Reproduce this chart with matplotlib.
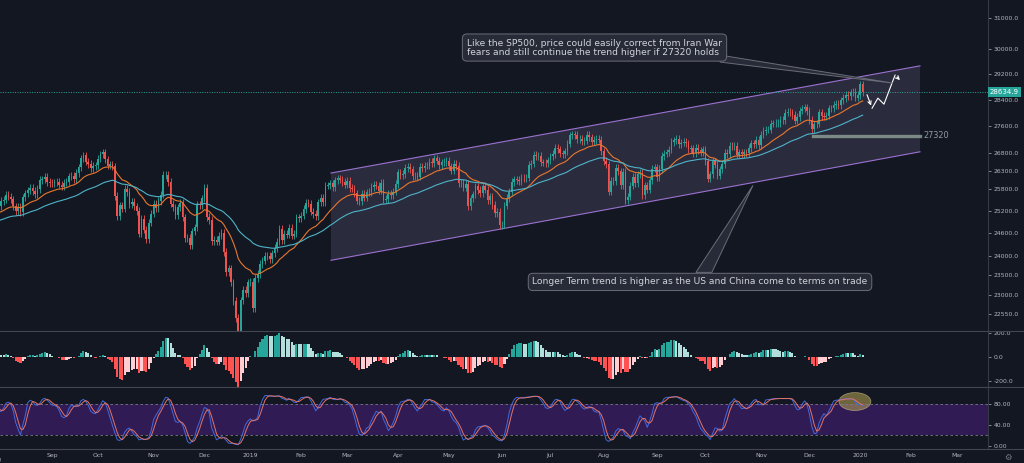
import numpy as np
import pandas as pd
import matplotlib
matplotlib.use('Agg')
import matplotlib.pyplot as plt
import matplotlib.transforms as mtransforms
from matplotlib.patches import Polygon, Ellipse
from matplotlib.lines import Line2D
from matplotlib.ticker import FixedLocator, NullLocator, FormatStrFormatter

# Dow Jones daily closes, Jun 2018 .. Jan 3 2020 (Jun/Jul 2018 only feed the indicators)
close_jun18 = [24635, 24814, 24799, 25146, 25242, 25317, 25323, 25320, 25201, 25175, 25090,
               24988, 24700, 24658, 24462, 24581, 24253, 24284, 24117, 24216, 24271]
close_jul18 = [24307, 24174, 24357, 24456, 24776, 24920, 24700, 24925, 25019, 25064, 25120,
               25199, 25065, 25058, 25044, 25242, 25415, 25527, 25451, 25307, 25415]
close_aug18 = [25333, 25327, 25463, 25502, 25629, 25583, 25509, 25313, 25187, 25300, 25162,
               25559, 25669, 25758, 25822, 25733, 25656, 25790, 26050, 26065, 26125, 25987, 25965]
close_sep18 = [25952, 25975, 25996, 25917, 25857, 25972, 25999, 26145, 26155, 26062, 26247,
               26406, 26657, 26744, 26562, 26492, 26385, 26440, 26458]
close_oct18 = [26651, 26774, 26828, 26627, 26447, 26487, 26431, 25599, 25053, 25340, 25250,
               25798, 25706, 25380, 25444, 25317, 25191, 24583, 24985, 24689, 24443, 24875, 25116]
close_nov18 = [25380, 25271, 25462, 25636, 26181, 26191, 25989, 25387, 25286, 25080, 25290,
               25413, 25018, 24466, 24465, 24286, 24640, 24749, 25366, 25339, 25538]
close_dec18 = [25826, 25027, 24947, 24389, 24423, 24370, 24527, 24597, 24101, 23592, 23676,
               23324, 22860, 22446, 21792, 22878, 23139, 23063, 23327]
close_jan19 = [23346, 22686, 23433, 23531, 23787, 23879, 24001, 23996, 23910, 24066, 24207,
               24370, 24706, 24405, 24575, 24554, 24737, 24529, 24580, 25015, 24999]
close_feb19 = [25064, 25239, 25411, 25391, 25169, 25106, 25053, 25425, 25543, 25439, 25883,
               25891, 25954, 25850, 26031, 26092, 26057, 25986, 25916]
close_mar19 = [26026, 25820, 25807, 25673, 25473, 25450, 25651, 25555, 25703, 25710, 25849,
               25914, 25887, 25746, 25963, 25502, 25517, 25658, 25626, 25718, 25929]
close_apr19 = [26258, 26180, 26218, 26385, 26425, 26341, 26151, 26157, 26143, 26412, 26385,
               26453, 26450, 26559, 26512, 26656, 26597, 26462, 26543, 26554, 26593]
close_may19 = [26430, 26308, 26505, 26439, 25965, 25968, 25828, 25942, 25325, 25532, 25648,
               25863, 25764, 25680, 25877, 25777, 25490, 25586, 25348, 25127, 25170, 24815]
close_jun19 = [24820, 25332, 25540, 25720, 25984, 26062, 26049, 26005, 26107, 26090, 26112,
               26466, 26504, 26753, 26720, 26727, 26548, 26537, 26526, 26600]
close_jul19 = [26718, 26787, 26966, 26922, 26806, 26784, 26860, 27088, 27332, 27359, 27336,
               27220, 27223, 27154, 27172, 27349, 27270, 27141, 27192, 27222, 27199, 26864]
close_aug19 = [26583, 26485, 25718, 26030, 26008, 26379, 26287, 25897, 26280, 25479, 25579,
               25886, 26136, 25962, 26202, 26253, 25629, 25899, 25778, 26037, 26363, 26403]
close_sep19 = [26118, 26356, 26728, 26797, 26836, 26910, 27137, 27182, 27220, 27076, 27111,
               27147, 27095, 26935, 26949, 26808, 26971, 26891, 26820, 26917]
close_oct19 = [26573, 26079, 26202, 26573, 26478, 26164, 26347, 26497, 26817, 26787, 27025,
               27002, 27026, 26770, 26828, 26788, 26834, 26806, 26958, 27091, 27071, 27186, 27046]
close_nov19 = [27347, 27462, 27493, 27493, 27675, 27681, 27691, 27691, 27784, 27782, 28005,
               28036, 28012, 27934, 27767, 27876, 28067, 28122, 28164, 28051]
close_dec19 = [27783, 27503, 27650, 27678, 28015, 27910, 27881, 27911, 28132, 28135, 28235,
               28268, 28240, 28377, 28455, 28551, 28516, 28621, 28645, 28462, 28538]
close_jan20 = [28868, 28634.9]

closes = (close_jun18 + close_jul18 + close_aug18 + close_sep18 + close_oct18 + close_nov18 +
          close_dec18 + close_jan19 + close_feb19 + close_mar19 + close_apr19 + close_may19 +
          close_jun19 + close_jul19 + close_aug19 + close_sep19 + close_oct19 + close_nov19 +
          close_dec19 + close_jan20)

holidays = ['2018-07-04', '2018-09-03', '2018-11-22', '2018-12-05', '2018-12-25',
            '2019-01-01', '2019-01-21', '2019-02-18', '2019-04-19', '2019-05-27',
            '2019-07-04', '2019-09-02', '2019-11-28', '2019-12-25',
            '2020-01-01', '2020-01-20', '2020-02-17']

last_price = 28634.9
support_level = 27320

# drawings on the chart (bar index from 1 Aug 2018, price)
channel_x = [138.3, 381.7]
channel_upper = [26241, 29453]
channel_lower = [23886, 26848]
support_x = [337.5, 381.7]
path_x = [359.4, 361.9, 364.3, 366.8, 371.4, 374.2]
path_y = [28632, 28140, 28446, 28262, 29161, 28942]

note_top = "Like the SP500, price could easily correct from Iran War\nfears and still continue the trend higher if 27320 holds"
note_bottom = "Longer Term trend is higher as the US and China come to terms on trade"

price_ticks = [31000, 30000, 29200, 28400, 27600, 26800, 26300, 25800, 25200, 24600,
               24000, 23500, 23000, 22550, 22125]
macd_ticks = [200, 0, -200]
stoch_ticks = [80, 40, 0]

BG = '#131722'
UP = '#26a69a'
DOWN = '#ef5350'
TXT = '#b2b5be'
LINE = '#363a45'
WICK = 0.004

# trading calendar
days = pd.bdate_range('2018-06-01', '2020-03-31')
days = days[~days.isin(pd.to_datetime(holidays))]
pos_all = np.arange(len(days)) - 42
n = len(closes)
pos = pos_all[:n]

c = pd.Series(closes, dtype=float)
o = c.shift(1).fillna(c.iloc[0])
hi = np.maximum(o, c) * (1 + WICK)
lo = np.minimum(o, c) * (1 - WICK)
up = (c >= o).values
col = np.where(up, UP, DOWN)

ma_fast = c.ewm(span=20, adjust=False).mean()
ma_slow = c.ewm(span=50, adjust=False).mean()

macd = c.ewm(span=12, adjust=False).mean() - c.ewm(span=26, adjust=False).mean()
hist = macd - macd.ewm(span=9, adjust=False).mean()
rising = hist.diff().fillna(0).values > 0
hv = hist.values
hcol = np.where(hv >= 0, np.where(rising, '#26a69a', '#b2dfdb'),
                np.where(rising, '#ffcdd2', '#ff5252'))

k_raw = 100 * (c - lo.rolling(14).min()) / (hi.rolling(14).max() - lo.rolling(14).min())
k = k_raw.rolling(3).mean()
d = k.rolling(3).mean()

plt.rcParams['font.family'] = ['DejaVu Sans']
fig = plt.figure(figsize=(10.24, 4.63), dpi=100, facecolor=BG)
H = 463.0
W = 1024.0
right = 988 / W
ax1 = fig.add_axes([0, 1 - 331 / H, right, 331 / H], facecolor=BG)
ax2 = fig.add_axes([0, 1 - 387 / H, right, 56 / H], facecolor=BG, sharex=ax1)
ax3 = fig.add_axes([0, 1 - 449 / H, right, 62 / H], facecolor=BG, sharex=ax1)

x0, x1 = 1.53, 409.8

# ---- price panel
ax1.set_yscale('log')
ax1.set_ylim(22134, 31619)
ax1.set_xlim(x0, x1)

ax1.fill([channel_x[0], channel_x[1], channel_x[1], channel_x[0]],
         [channel_upper[0], channel_upper[1], channel_lower[1], channel_lower[0]],
         color='#8c80b0', alpha=0.2, lw=0, zorder=1)
ax1.plot(channel_x, channel_upper, color='#9b72d0', lw=0.8, zorder=2)
ax1.plot(channel_x, channel_lower, color='#9b72d0', lw=0.8, zorder=2)

ax1.plot(support_x, [support_level, support_level], color='#9fb3a6', lw=2.4, alpha=0.7, zorder=2)
ax1.text(support_x[1] + 1.5, support_level, str(support_level), color='#9598a1',
         fontsize=5.9, va='center', ha='left')

ax1.axhline(last_price, color=UP, ls=(0, (1, 1.5)), lw=0.7, zorder=2)

ax1.vlines(pos, lo, hi, colors=col, lw=0.6, zorder=3)
ax1.bar(pos, np.abs(c - o), bottom=np.minimum(o, c), width=0.7, color=col, lw=0, zorder=4)
ax1.plot(pos, ma_fast, color='#e8772e', lw=0.8, zorder=5)
ax1.plot(pos, ma_slow, color='#4fb3c8', lw=0.8, zorder=5)

# projected path
ax1.annotate('', xy=(path_x[1], path_y[1]), xytext=(path_x[0], path_y[0]),
             arrowprops=dict(arrowstyle='->', color='white', lw=0.8, mutation_scale=6), zorder=6)
ax1.plot(path_x[1:5], path_y[1:5], color='white', lw=0.8, zorder=6)
ax1.annotate('', xy=(path_x[5], path_y[5]), xytext=(path_x[4], path_y[4]),
             arrowprops=dict(arrowstyle='->', color='white', lw=0.8, mutation_scale=6), zorder=6)

# callouts
box_fc = '#272b37'
box_ec = '#6a6d78'
ax1.add_patch(Polygon([(299.1, 29797), (299.1, 29573), (370.5, 28911)], closed=True,
                      fc=box_fc, ec=box_ec, lw=0.7, zorder=7))
ax1.text(247.2, 30040, note_top, ha='center', va='center', multialignment='left',
         fontsize=6.6, color='#d1d4dc', linespacing=1.0, zorder=8,
         bbox=dict(boxstyle='round,pad=0.5,rounding_size=0.5', fc=box_fc, ec=box_ec, lw=0.7))
ax1.add_patch(Polygon([(289.1, 23577), (295.7, 23577), (312.7, 25895)], closed=True,
                      fc=box_fc, ec=box_ec, lw=0.7, zorder=7))
ax1.text(290.8, 23336, note_bottom, ha='center', va='center',
         fontsize=6.6, color='#d1d4dc', zorder=8,
         bbox=dict(boxstyle='round,pad=0.45,rounding_size=0.5', fc=box_fc, ec=box_ec, lw=0.7))

# ---- MACD panel
ax2.set_ylim(-250, 217)
ax2.bar(pos, hv, width=0.85, color=hcol, lw=0)

# ---- Stochastic panel
ax3.set_ylim(-5.7, 112)
ax3.axhspan(20, 80, color='#301b54', lw=0)
ax3.axhline(80, color='#787b86', lw=0.6, ls=(0, (3, 3)))
ax3.axhline(20, color='#787b86', lw=0.6, ls=(0, (3, 3)))
ax3.plot(pos, k, color='#3f6ae0', lw=0.7)
ax3.plot(pos, d, color='#e57366', lw=0.7)
ax3.add_patch(Ellipse((354.8, 84.4), 13.2, 34, fc='#c9b458', ec='#e0d8a0', alpha=0.5, lw=0.6))

# ---- axes styling
for ax, ticks, fmt in [(ax1, price_ticks, '%.1f'), (ax2, macd_ticks, '%.1f'),
                       (ax3, stoch_ticks, '%.2f')]:
    for s in ax.spines.values():
        s.set_visible(False)
    ax.spines['right'].set_visible(True)
    ax.spines['right'].set_color(LINE)
    ax.yaxis.tick_right()
    ax.yaxis.set_major_locator(FixedLocator(ticks))
    ax.yaxis.set_minor_locator(NullLocator())
    ax.yaxis.set_major_formatter(FormatStrFormatter(fmt))
    ax.tick_params(axis='y', colors=TXT, labelsize=4.4, length=2.5, width=0.5, pad=1.5)
    ax.tick_params(axis='x', length=0)
plt.setp(ax1.get_xticklabels(), visible=False)
plt.setp(ax2.get_xticklabels(), visible=False)

# month labels
month_pos = []
month_lab = []
for i in range(1, len(days)):
    if days[i].month != days[i - 1].month:
        month_pos.append(pos_all[i])
        month_lab.append(str(days[i].year) if days[i].month == 1 else days[i].strftime('%b'))
ax3.xaxis.set_major_locator(FixedLocator(month_pos))
ax3.set_xticklabels(month_lab)
ax3.tick_params(axis='x', colors=TXT, labelsize=4.4, pad=3)
# August 2018 label sits at the very left edge, as in the original
ax3.text(0, -0.13, 'Aug', transform=mtransforms.blended_transform_factory(ax3.transData, ax3.transAxes),
         ha='center', va='top', fontsize=4.4, color=TXT, clip_on=False)

# last price tag
ax1.text(1.002, last_price, '28634.9', transform=mtransforms.blended_transform_factory(ax1.transAxes, ax1.transData),
         ha='left', va='center', fontsize=5.0, color='white', clip_on=False, zorder=10,
         bbox=dict(boxstyle='square,pad=0.3', fc=UP, ec='none'))

# panel separators
for yy in [331, 387, 449]:
    fig.add_artist(Line2D([0, 1], [1 - yy / H, 1 - yy / H], color='#434651', lw=0.8))

fig.text(1008 / W, 1 - 457 / H, '\u2699', color='#787b86', fontsize=6, ha='center', va='center')

fig.savefig('out.png', dpi=100, facecolor=BG)
